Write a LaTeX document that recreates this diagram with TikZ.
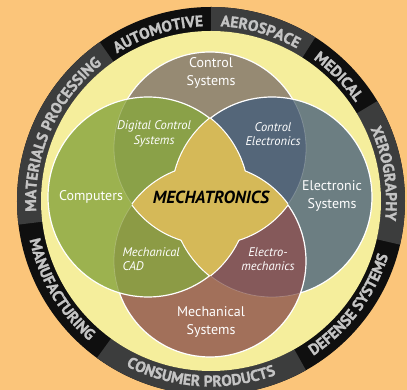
\documentclass[tikz,border=0pt]{standalone}
\usepackage{fontspec}
\setmainfont{PT Sans}
\newfontfamily\ringfont{PT Sans}[BoldFeatures={FakeBold=1.2}]
\usetikzlibrary{calc,decorations.text}
\definecolor{bg}{HTML}{FBC57A}
\definecolor{band}{HTML}{F5EE9C}
\definecolor{ringk}{HTML}{0F0F0F}
\definecolor{ringg}{HTML}{3C3D3D}
\definecolor{ringtxt}{HTML}{C4C4C4}
\definecolor{cT}{HTML}{968A73}
\definecolor{cL}{HTML}{9CB24F}
\definecolor{cR}{HTML}{6C7E82}
\definecolor{cB}{HTML}{A2705A}
\definecolor{cTL}{HTML}{8AA148}
\definecolor{cTR}{HTML}{546679}
\definecolor{cRB}{HTML}{85595A}
\definecolor{cLB}{HTML}{8C9B45}
\definecolor{gold}{HTML}{D5B958}
\newcommand\ringseg[3]{\fill[#3] ($(C)+(#1:194)$) arc[start angle=#1, end angle=#2, radius=194] -- ($(C)+(#2:170)$) arc[start angle=#2, end angle=#1, radius=170] -- cycle;}
\newcommand\ringstyle{\ringfont\fontsize{15.5}{15.5}\selectfont\bfseries}
\newcommand\toptext[3]{\path[decorate, decoration={text along path, text={|\ringstyle|#3}, text align=center, text color=ringtxt}] ($(C)+(#1:175)$) arc[start angle=#1, end angle=#2, radius=175];}
\newcommand\bottext[3]{\path[decorate, decoration={text along path, text={|\ringstyle|#3}, text align=center, text color=ringtxt}] ($(C)+(#1:185.5)$) arc[start angle=#1, end angle=#2, radius=185.5];}
\begin{document}
\begin{tikzpicture}[x=1pt,y=1pt,
  wline/.style={draw=white, line width=1.2pt},
  faint/.style={draw=white, draw opacity=0.2, line width=0.8pt},
  lbl/.style={text=white, align=center, font=\fontsize{14}{17.5}\selectfont},
  ilbl/.style={text=white, align=center, font=\fontsize{12.5}{14.5}\selectfont\itshape}]
\useasboundingbox (0,0) rectangle (407,390);
\fill[bg] (0,0) rectangle (407,390);
\coordinate (C) at (211,189);
\coordinate (L) at (148,193);
\coordinate (R) at (272,193);
\coordinate (T) at (210,242);
\coordinate (B) at (210,129);
\def\rtb{96}
% ring
\fill[ringk] (C) circle[radius=194];
\ringseg{57.5}{90}{ringg}
\ringseg{-13}{31}{ringg}
\ringseg{234}{299.3}{ringg}
\ringseg{125}{187}{ringg}
\fill[band] (C) circle[radius=170];
\toptext{125}{90}{AUTOMOTIVE}
\toptext{90}{57.5}{AEROSPACE}
\toptext{57.5}{31}{MEDICAL}
\toptext{31}{-13}{XEROGRAPHY}
\toptext{187}{125}{MATERIALS PROCESSING}
\bottext{187}{234}{MANUFACTURING}
\bottext{234}{299.3}{CONSUMER PRODUCTS}
\bottext{299.3}{347}{DEFENSE SYSTEMS}
% circles
\fill[cT] (T) circle[radius=\rtb];
\draw[wline] (T) circle[radius=\rtb];
\fill[cR] (R) circle[radius=100];
\begin{scope}\clip (R) circle[radius=100]; \fill[cTR] (T) circle[radius=\rtb];\end{scope}
\draw[wline] (R) circle[radius=100];
\fill[cB] (B) circle[radius=\rtb];
\begin{scope}\clip (B) circle[radius=\rtb]; \fill[cRB] (R) circle[radius=100];\end{scope}
\draw[wline] (B) circle[radius=\rtb];
\fill[cL] (L) circle[radius=100];
\begin{scope}\clip (L) circle[radius=100]; \fill[cTL] (T) circle[radius=\rtb]; \fill[cLB] (B) circle[radius=\rtb];\end{scope}
\draw[wline] (L) circle[radius=100];
\draw[faint] (T) circle[radius=\rtb] (R) circle[radius=100] (B) circle[radius=\rtb];
% star
\begin{scope}\clip (L) circle[radius=100]; \draw[draw=white, line width=2.4pt] (R) circle[radius=100];\end{scope}
\begin{scope}\clip (R) circle[radius=100]; \draw[draw=white, line width=2.4pt] (L) circle[radius=100];\end{scope}
\begin{scope}\clip (T) circle[radius=\rtb]; \draw[draw=white, line width=2.4pt] (B) circle[radius=\rtb];\end{scope}
\begin{scope}\clip (B) circle[radius=\rtb]; \draw[draw=white, line width=2.4pt] (T) circle[radius=\rtb];\end{scope}
\begin{scope}\clip (L) circle[radius=100]; \fill[gold] (R) circle[radius=100];\end{scope}
\begin{scope}\clip (T) circle[radius=\rtb]; \fill[gold] (B) circle[radius=\rtb];\end{scope}
% labels
\node[lbl] (ctrl) at (211,317) {Control\\Systems};
\node[ilbl] (dcs) at (154,256) {Digital Control\\Systems};
\node[ilbl] (ce) at (273,256) {Control\\Electronics};
\node[lbl] (comp) at (91,193) {Computers};
\node[font=\fontsize{17.5}{17.5}\selectfont\bfseries\itshape, text=black] (mech) at (211,193) {MECHATRONICS};
\node[lbl] (es) at (332,194) {Electronic\\Systems};
\node[ilbl, align=left, anchor=west] (mcad) at (119,131) {Mechanical\\CAD};
\node[ilbl] (em) at (268,131) {Electro-\\mechanics};
\node[lbl] (ms) at (211,68) {Mechanical\\Systems};
\end{tikzpicture}
\end{document}
